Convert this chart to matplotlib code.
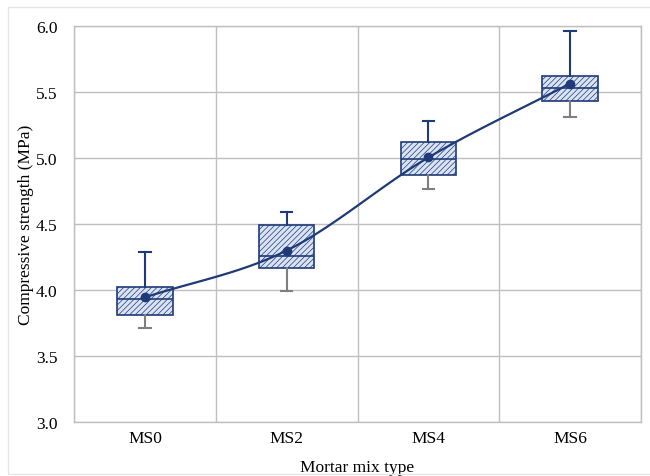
import numpy as np
import matplotlib
matplotlib.use("Agg")
import matplotlib.pyplot as plt
from matplotlib.patches import Rectangle

# data
mixes = ["MS0", "MS2", "MS4", "MS6"]
whisker_low = [3.71, 3.99, 4.77, 5.31]
q1 = [3.81, 4.165, 4.87, 5.43]
medians = [3.93, 4.26, 4.99, 5.53]
q3 = [4.02, 4.49, 5.12, 5.62]
whisker_high = [4.29, 4.59, 5.28, 5.96]
means = [3.945, 4.30, 5.005, 5.565]

navy = "#1f3a78"
fill = "#dae3f3"
grid_col = "#bfbfbf"

plt.rcParams["font.family"] = ["Liberation Serif", "DejaVu Serif"]
plt.rcParams["hatch.linewidth"] = 0.5
plt.rcParams["hatch.color"] = navy


def catmull_rom(x, y, n=40):
    # smooth curve through points (like a smoothed line in spreadsheets)
    x = np.asarray(x, float)
    y = np.asarray(y, float)
    px = np.concatenate([[2 * x[0] - x[1]], x, [2 * x[-1] - x[-2]]])
    py = np.concatenate([[2 * y[0] - y[1]], y, [2 * y[-1] - y[-2]]])
    xs, ys = [], []
    t = np.linspace(0, 1, n)
    for i in range(1, len(px) - 2):
        for p, out in ((px, xs), (py, ys)):
            p0, p1, p2, p3 = p[i - 1], p[i], p[i + 1], p[i + 2]
            out.extend(0.5 * ((2 * p1) + (-p0 + p2) * t
                              + (2 * p0 - 5 * p1 + 4 * p2 - p3) * t ** 2
                              + (-p0 + 3 * p1 - 3 * p2 + p3) * t ** 3))
    return np.array(xs), np.array(ys)


fig = plt.figure(figsize=(6.5, 4.77), dpi=100)
ax = fig.add_axes([0.114, 0.113, 0.872, 0.830])

pos = np.arange(1, len(mixes) + 1)
stats = []
for i, m in enumerate(mixes):
    stats.append(dict(label=m, whislo=whisker_low[i], q1=q1[i], med=medians[i],
                      q3=q3[i], whishi=whisker_high[i], fliers=[]))

res = ax.bxp(stats, positions=pos, widths=0.39, patch_artist=True,
             showfliers=False, showcaps=True, zorder=3,
             boxprops=dict(facecolor=fill, edgecolor=navy, linewidth=1.2, hatch="//////"),
             medianprops=dict(color=navy, linewidth=1.2),
             whiskerprops=dict(color=navy, linewidth=1.5),
             capprops=dict(color=navy, linewidth=1.5))

# lower whiskers/caps are grey in the reference
for k in range(len(mixes)):
    res["whiskers"][2 * k].set_color("#7f7f7f")
    res["caps"][2 * k].set_color("#7f7f7f")
for c in res["caps"]:
    xd = c.get_xdata()
    mid = (xd[0] + xd[1]) / 2
    c.set_xdata([mid - 0.04, mid + 0.04])

sx, sy = catmull_rom(pos, means)
ax.plot(sx, sy, color=navy, linewidth=1.6, zorder=4)
ax.plot(pos, means, "o", color=navy, markersize=6, zorder=5)

ax.set_xlim(0.5, 4.5)
ax.set_ylim(3.0, 6.0)
ax.set_yticks(np.arange(3.0, 6.01, 0.5))
ax.set_yticklabels([f"{v:.1f}" for v in np.arange(3.0, 6.01, 0.5)], fontsize=12.5)
ax.set_xticks(pos)
ax.set_xticklabels(mixes, fontsize=12.5)
ax.set_xticks(np.arange(0.5, 4.6, 1.0), minor=True)
ax.tick_params(axis="y", which="both", length=0, pad=12)
ax.tick_params(axis="x", which="both", length=0, pad=6)
ax.grid(axis="y", which="major", color=grid_col, linewidth=1.0, zorder=0)
ax.grid(axis="x", which="minor", color=grid_col, linewidth=1.0, zorder=0)
ax.grid(axis="x", which="major", visible=False)
for s in ax.spines.values():
    s.set_color(grid_col)
    s.set_linewidth(1.0)
ax.set_axisbelow(True)

ax.set_xlabel("Mortar mix type", fontsize=12.5, labelpad=9)
ax.set_ylabel("Compressive strength (MPa)", fontsize=12.5, labelpad=1)

fig.patches.append(Rectangle((0.012, 0.004), 0.99, 0.98, transform=fig.transFigure,
                             fill=False, edgecolor="#e6e6e6", linewidth=1.0))

fig.savefig("out.png", dpi=100)
